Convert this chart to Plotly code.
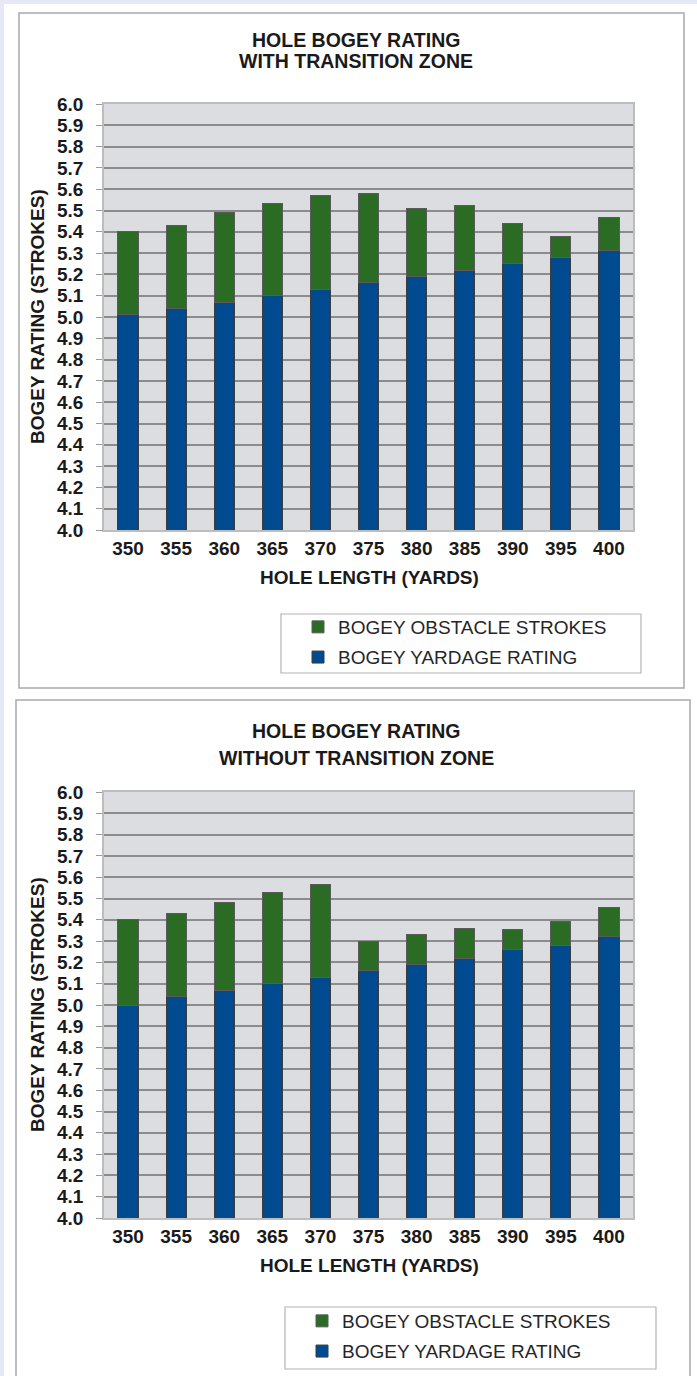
import plotly.graph_objects as go

W, H = 697, 1376

# Hole lengths (yards)
hole_lengths = ["350", "355", "360", "365", "370", "375", "380", "385", "390", "395", "400"]

# Upper chart: with transition zone
with_tz_yardage = [5.01, 5.04, 5.07, 5.10, 5.13, 5.16, 5.19, 5.22, 5.25, 5.28, 5.31]
with_tz_obstacle = [0.39, 0.39, 0.42, 0.435, 0.44, 0.42, 0.32, 0.305, 0.19, 0.10, 0.155]

# Lower chart: without transition zone
without_tz_yardage = [5.00, 5.04, 5.07, 5.10, 5.13, 5.16, 5.19, 5.22, 5.26, 5.28, 5.32]
without_tz_obstacle = [0.40, 0.39, 0.41, 0.43, 0.435, 0.14, 0.14, 0.14, 0.095, 0.11, 0.14]

y_ticks = [round(4.0 + 0.1 * i, 1) for i in range(21)]
y_ticktext = [f"{v:.1f}" for v in y_ticks]

GREEN = "#2b6c25"
BLUE = "#004a90"
FONT = "Liberation Sans"
TEXT = "#1a1a1a"


def px(x):
    return x / W


def py(y):
    return 1 - y / H


fig = go.Figure()

panels = [
    dict(yard=with_tz_yardage, obs=with_tz_obstacle, xa="x", ya="y", legend="legend",
         top=104, bottom=530, box=(19, 13, 684, 688), sub="WITH TRANSITION ZONE",
         title_y=(40, 61), leg_box=(281, 614, 641, 673), leg_x=298, leg_y=608),
    dict(yard=without_tz_yardage, obs=without_tz_obstacle, xa="x2", ya="y2", legend="legend2",
         top=792, bottom=1218, box=(16, 700, 690, 1390), sub="WITHOUT TRANSITION ZONE",
         title_y=(731, 758), leg_box=(285, 1307, 656, 1369), leg_x=302, leg_y=1302),
]

shapes = [
    # page edge strips
    dict(type="rect", xref="paper", yref="paper", x0=0, x1=1, y0=py(4), y1=1,
         fillcolor="#e6e8f5", line=dict(width=0), layer="below"),
    dict(type="rect", xref="paper", yref="paper", x0=0, x1=px(4), y0=0, y1=1,
         fillcolor="#e6e8f5", line=dict(width=0), layer="below"),
]
annotations = []

for i, p in enumerate(panels):
    fig.add_bar(x=hole_lengths, y=p["yard"], name="BOGEY YARDAGE RATING",
                marker=dict(color=BLUE, line=dict(color="#3c3c3c", width=1)),
                xaxis=p["xa"], yaxis=p["ya"], legend=p["legend"],
                legendgroup=f"yr{i}", legendrank=2)
    fig.add_bar(x=hole_lengths, y=p["obs"], name="BOGEY OBSTACLE STROKES",
                marker=dict(color=GREEN, line=dict(color="#5a5a5a", width=1)),
                xaxis=p["xa"], yaxis=p["ya"], legend=p["legend"],
                legendgroup=f"os{i}", legendrank=1)

    bx0, by0, bx1, by1 = p["box"]
    shapes.append(dict(type="rect", xref="paper", yref="paper",
                       x0=px(bx0), x1=px(bx1), y0=py(by1), y1=py(by0),
                       line=dict(color="#a9a9a9", width=1.5), fillcolor="rgba(0,0,0,0)",
                       layer="below"))
    lx0, ly0, lx1, ly1 = p["leg_box"]
    shapes.append(dict(type="rect", xref="paper", yref="paper",
                       x0=px(lx0), x1=px(lx1), y0=py(ly1), y1=py(ly0),
                       line=dict(color="#b4b4b4", width=1.2), fillcolor="rgba(0,0,0,0)"))

    t1, t2 = p["title_y"]
    annotations += [
        dict(text="<b>HOLE BOGEY RATING</b>", x=px(356), y=py(t1), xref="paper", yref="paper",
             showarrow=False, font=dict(family=FONT, size=19.5, color=TEXT),
             xanchor="center", yanchor="middle"),
        dict(text=f"<b>{p['sub']}</b>", x=px(356), y=py(t2), xref="paper", yref="paper",
             showarrow=False, font=dict(family=FONT, size=19.5, color=TEXT),
             xanchor="center", yanchor="middle"),
        dict(text="<b>HOLE LENGTH (YARDS)</b>", x=px(369), y=py(p["bottom"] + 47),
             xref="paper", yref="paper", showarrow=False,
             font=dict(family=FONT, size=19, color=TEXT), xanchor="center", yanchor="middle"),
        dict(text="<b>BOGEY RATING (STROKES)</b>", x=px(37), y=py((p["top"] + p["bottom"]) / 2),
             xref="paper", yref="paper", showarrow=False, textangle=-90,
             font=dict(family=FONT, size=19, color=TEXT), xanchor="center", yanchor="middle"),
    ]

    xkey = "xaxis" if i == 0 else "xaxis2"
    ykey = "yaxis" if i == 0 else "yaxis2"
    fig.update_layout({
        xkey: dict(domain=[px(104), px(633)], anchor=p["ya"], type="category",
                   showgrid=False, ticks="", showline=True, linecolor="#bdbdbd", linewidth=1.5,
                   mirror=True, automargin=False,
                   tickfont=dict(family=FONT, size=19, color=TEXT, weight="bold")),
        ykey: dict(domain=[py(p["bottom"]), py(p["top"])], anchor=p["xa"], range=[4.0, 6.0],
                   tickvals=y_ticks, ticktext=y_ticktext, ticks="outside", ticklen=6,
                   tickcolor="#9a9a9a", tickwidth=1, showgrid=True, gridcolor="#8c8c8c",
                   gridwidth=1.5, showline=True, linecolor="#bdbdbd", linewidth=1.5, mirror=True,
                   zeroline=False, ticklabelstandoff=9, automargin=False,
                   tickfont=dict(family=FONT, size=19, color=TEXT, weight="bold")),
        p["legend"]: dict(x=px(p["leg_x"]), y=py(p["leg_y"]), xanchor="left", yanchor="top",
                          traceorder="grouped", tracegroupgap=2.5,
                          bgcolor="rgba(0,0,0,0)", borderwidth=0,
                          font=dict(family=FONT, size=19, color="#262626")),
    })

fig.update_layout(
    width=W, height=H, margin=dict(l=0, r=0, t=0, b=0, autoexpand=False),
    barmode="stack", bargap=0.58,
    paper_bgcolor="white", plot_bgcolor="#dcdde0",
    showlegend=True, shapes=shapes, annotations=annotations,
)

fig.write_html("out.html")
